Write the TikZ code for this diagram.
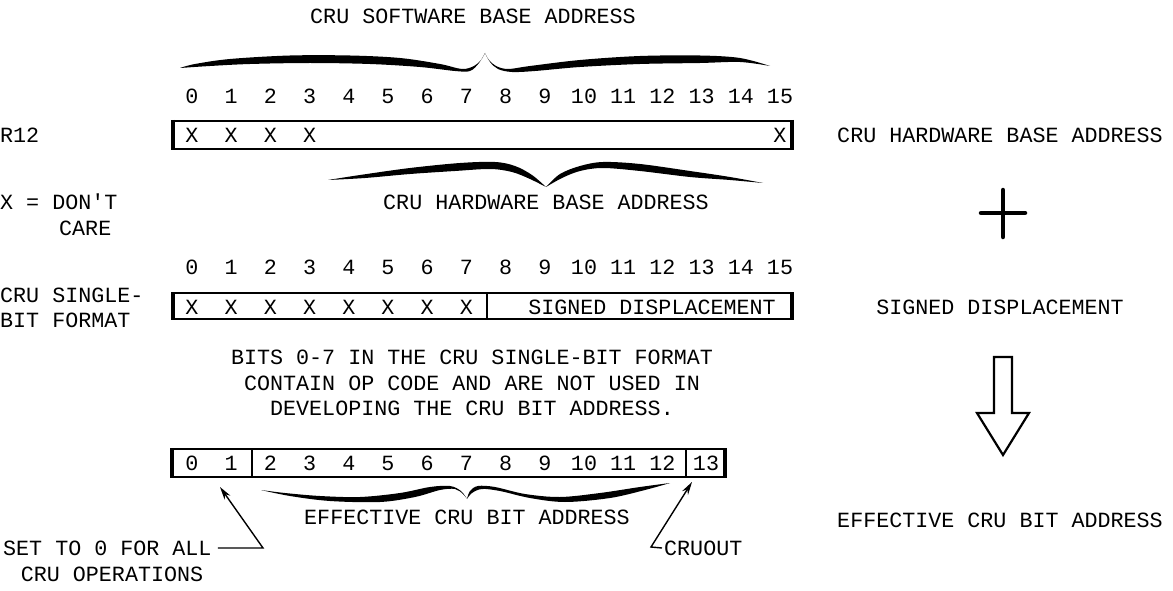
\documentclass[tikz,border=0pt]{standalone}
\usepackage{fontspec}
\setmonofont{Liberation Mono}
\usetikzlibrary{arrows.meta}
\begin{document}
\begin{tikzpicture}[x=1pt,y=-1pt,
  lbl/.style={inner sep=0pt, text height=14pt, text depth=0pt, font=\ttfamily\fontsize{21.7}{26}\selectfont},
  boxline/.style={line width=2.4pt},
  sideline/.style={line width=3.6pt},
  divline/.style={line width=2.8pt},
  conn/.style={line width=1.4pt},
  tip/.style={-{Stealth[length=13pt,width=7pt]}},
  brfill/.style={fill=black, smooth, tension=0.55},
]
\useasboundingbox (0,0) rectangle (1173,591);

% ---------- title and top brace
\node[lbl] (title) at (473,17) {CRU SOFTWARE BASE ADDRESS};
\fill plot[smooth,tension=0.55] coordinates {(180,68) (195,64) (230,59) (290,55.5) (350,55.5) (400,58) (440,64) (462,69) (474,66) (481,60) (485,53)}
  -- plot[smooth,tension=0.55] coordinates {(485,53) (489,60) (496,66) (508,69) (530,66) (580,60) (640,56) (700,55.5) (740,58) (770,66)}
  -- plot[smooth,tension=0.55] coordinates {(770,66) (740,62) (700,63) (640,64) (580,67) (535,71) (512,72) (498,69) (490,62) (485,53)}
  -- plot[smooth,tension=0.55] coordinates {(485,53) (479,63) (470,71) (455,71) (420,67) (370,64) (310,63) (250,64) (210,66) (180,68)} -- cycle;

% ---------- row 1 : R12
\foreach \i in {0,...,15} \node[lbl] (ra\i) at ({192+39.2*\i},97) {\i};
\node[lbl, anchor=west] (r12) at (0,136) {R12};
\draw[boxline] (173,121) rectangle (792,149);
\draw[sideline] (173,120) -- (173,150) (792,120) -- (792,150);
\foreach \i in {0,1,2,3,15} \node[lbl] (xa\i) at ({192+39.2*\i},136) {X};

% lower brace under R12
\fill plot[smooth,tension=0.55] coordinates {(328,180) (360,175) (410,168) (460,163) (495,162) (515,166) (532,175) (546,187)}
  -- plot[smooth,tension=0.55] coordinates {(546,187) (560,174) (580,166) (603,162) (640,164) (690,171) (730,177) (763,183)}
  -- plot[smooth,tension=0.55] coordinates {(763,183) (730,180) (690,177) (640,171) (603,168) (580,171) (562,178) (546,187)}
  -- plot[smooth,tension=0.55] coordinates {(546,187) (530,179) (512,172) (490,169) (455,171) (410,174) (365,178) (328,180)} -- cycle;
\node[lbl] (hwba) at (546,202) {CRU HARDWARE BASE ADDRESS};

\node[lbl, anchor=west] (dc1) at (0,202) {X = DON'T};
\node[lbl, anchor=west] (dc2) at (59,228) {CARE};

% ---------- row 2 : single-bit format
\foreach \i in {0,...,15} \node[lbl] (rb\i) at ({192+39.2*\i},267) {\i};
\node[lbl, anchor=west] (sb1) at (0,295) {CRU SINGLE-};
\node[lbl, anchor=west] (sb2) at (0,320) {BIT FORMAT};
\draw[boxline] (173,293) rectangle (792,319);
\draw[sideline] (173,292) -- (173,320) (792,292) -- (792,320);
\draw[divline] (487,293) -- (487,319);
\foreach \i in {0,...,7} \node[lbl] (xb\i) at ({192+39.2*\i},307) {X};
\node[lbl] (sd) at (652,307) {SIGNED DISPLACEMENT};

\node[lbl] (n1) at (472,357) {BITS 0-7 IN THE CRU SINGLE-BIT FORMAT};
\node[lbl] (n2) at (472,383) {CONTAIN OP CODE AND ARE NOT USED IN};
\node[lbl] (n3) at (472,408) {DEVELOPING THE CRU BIT ADDRESS.};

% ---------- row 3 : effective address
\draw[boxline] (172,449) rectangle (725,477);
\draw[sideline] (172,448) -- (172,478) (725,448) -- (725,478);
\draw[divline] (252,449) -- (252,477) (686,449) -- (686,477);
\foreach \i in {0,...,12} \node[lbl] (rc\i) at ({192+39.2*\i},463) {\i};
\node[lbl] (rc13) at (706,463) {13};

\fill plot[smooth,tension=0.55] coordinates {(261,490) (290,496) (330,501) (380,502) (415,497) (440,490) (455,489) (463,494) (467,499)}
  -- plot[smooth,tension=0.55] coordinates {(467,499) (472,493) (482,489) (500,491) (530,498) (565,502) (610,498) (645,490) (670,483)}
  -- plot[smooth,tension=0.55] coordinates {(670,483) (640,487) (600,493) (560,497) (525,494) (495,487) (478,486) (470,491) (467,499)}
  -- plot[smooth,tension=0.55] coordinates {(467,499) (461,491) (450,486) (430,487) (400,493) (360,497) (320,496) (285,493) (261,490)} -- cycle;
\node[lbl] (eff) at (467,517) {EFFECTIVE CRU BIT ADDRESS};

% set-to-0 callout
\node[lbl, anchor=west] (set1) at (3,548) {SET TO 0 FOR ALL};
\node[lbl] (set2) at (112,574) {CRU OPERATIONS};
\coordinate (c1) at (263,548);
\coordinate (t1) at (220,487);
\draw[conn, tip] ([xshift=6pt]set1.east) -- (c1) -- (t1);

% cruout callout
\node[lbl, anchor=west] (cruout) at (664,548) {CRUOUT};
\coordinate (c2) at (651,547);
\coordinate (t2) at (692,482);
\draw[conn, tip] ([xshift=-2pt]cruout.west) -- (c2) -- (t2);

% ---------- right column
\node[lbl] (rhw) at (1000,136) {CRU HARDWARE BASE ADDRESS};
\draw[line width=4.5pt, line cap=round] (981,213) -- (1025,213) (1003,190) -- (1003,237);
\node[lbl] (rsd) at (1000,307) {SIGNED DISPLACEMENT};
\draw[line width=2.2pt, line join=miter] (994,357) -- (994,413) -- (977,413) -- (1003,455) -- (1029,413) -- (1012,413) -- (1012,357) -- cycle;
\node[lbl] (reff) at (1000,520) {EFFECTIVE CRU BIT ADDRESS};
\end{tikzpicture}
\end{document}
